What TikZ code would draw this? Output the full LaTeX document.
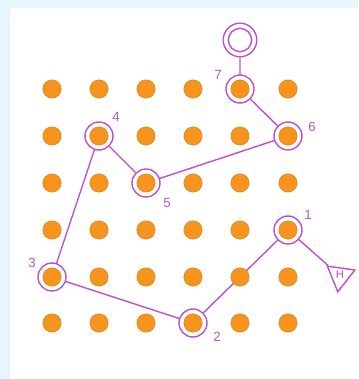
\documentclass[tikz,border=0pt]{standalone}
\usepackage{fontspec}
\setmainfont{Liberation Sans}
\usetikzlibrary{shapes.geometric}
\definecolor{bgcolor}{HTML}{E6F5FE}
\definecolor{dotcolor}{HTML}{F7941D}
\definecolor{routecolor}{HTML}{BB52CA}
\tikzset{
  grid dot/.style={circle,fill=dotcolor,draw=dotcolor!85!black,line width=.3pt,inner sep=0pt,minimum size=4.6mm},
  ring/.style={circle,draw=routecolor,line width=1pt,inner sep=0pt,minimum size=7mm},
  route/.style={routecolor,line width=1pt},
  step label/.style={text=routecolor!75!gray,font=\fontsize{9.5}{10}\selectfont}
}
\begin{document}
\begin{tikzpicture}[x=0.25mm,y=-0.25mm]
  \fill[bgcolor] (0,0) rectangle (358,379);
  \fill[white] (10,8) rectangle (358,379);
  \useasboundingbox (0,0) rectangle (358,379);
  % dot grid
  \foreach \c/\x in {1/52,2/99,3/146,4/193,5/240,6/288}
    \foreach \r/\y in {1/89,2/136,3/183,4/230,5/277,6/323}
      \node[grid dot] (d\c\r) at (\x,\y) {};
  % marked stops
  \node[ring] (s1) at (d64) {};
  \node[ring] (s2) at (d46) {};
  \node[ring] (s3) at (d15) {};
  \node[ring] (s4) at (d22) {};
  \node[ring] (s5) at (d33) {};
  \node[ring] (s6) at (d62) {};
  \node[ring] (s7) at (d51) {};
  \node[ring,minimum size=8.4mm] (goal) at (240,40) {};
  \node[ring,minimum size=5.8mm] (goalin) at (goal) {};
  \node[draw=routecolor,line width=1pt,regular polygon,regular polygon sides=3,
        shape border rotate=172,minimum size=8mm,inner sep=0pt,text=routecolor,
        font=\fontsize{8}{9}\selectfont] (home) at (340,276) {\raisebox{2.5pt}{H}};
  % route
  \draw[route] (home) -- (s1) -- (d55) -- (s2) -- (s3) -- (s4) -- (s5) -- (s6) -- (s7) -- (goal);
  % labels
  \node[step label] (l1) at (308,215) {1};
  \node[step label] (l2) at (217,337) {2};
  \node[step label] (l3) at (32,263) {3};
  \node[step label] (l4) at (116,117) {4};
  \node[step label] (l5) at (167,203) {5};
  \node[step label] (l6) at (312,127) {6};
  \node[step label] (l7) at (218,75) {7};
\end{tikzpicture}
\end{document}
